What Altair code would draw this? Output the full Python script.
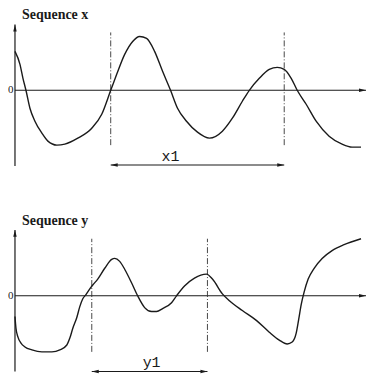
import altair as alt
import pandas as pd

# ---------------- data ----------------
titles = ["Sequence x", "Sequence y"]
span_labels = ["x1", "y1"]

# Sequence x : time index and amplitude
seq_x_t = [0, 5, 8, 11, 15, 20, 27, 33, 42, 50, 63, 77, 87, 96, 102, 110, 118, 125,
           132, 140, 148, 156, 163, 172, 183, 195, 208, 218, 228, 235, 245, 255, 263,
           270, 277, 283, 292, 302, 315, 328, 338, 347]
seq_x_a = [39, 26, 12, 0, -18, -31, -43, -51, -55, -54, -48, -38, -24, 0, 16, 36, 49, 54,
           52, 39, 19, 0, -18, -31, -42, -48, -41, -28, -11, 0, 12, 21, 23,
           21, 12, 0, -14, -31, -46, -54, -57, -57]

# Sequence y : time index and amplitude
seq_y_t = [0, 1, 3, 6, 10, 17, 27, 37, 45, 52, 55, 58, 62, 65, 68, 71, 75, 78, 83, 90, 97,
           100, 105, 110, 117, 123, 130, 137, 142, 148, 157, 162, 170, 180, 192, 198,
           208, 215, 228, 242, 255, 265, 273, 278, 282, 284.5, 287, 290, 294, 300, 308,
           318, 330, 347]
seq_y_a = [-21, -33, -42, -48, -52, -55, -57, -57, -55, -50, -43, -33, -22, -11, -3, 1, 7,
           11, 17, 28, 37, 38, 35, 27, 13, 0, -12, -16, -16, -13, -7, 0, 10, 18, 22, 17,
           2, -5, -15, -25, -37, -45, -49, -47, -38, -24, -9, 4, 17, 28, 38,
           46, 52, 58]

# marked spans (start / end time of x1 and y1)
x_span = [96, 270]
y_span = [77, 193]

# ---------------- drawing ----------------
UP = "M0,0L-0.5,2L0.5,2Z"
RIGHT = "M0,0L-2,-0.5L-2,0.5Z"
LEFT = "M0,0L2,-0.5L2,0.5Z"
INK = "#1a1a1a"


def panel(title, t, a, span, label, cfg):
    xs = alt.Scale(domain=[-6, 353], nice=False, zero=False)
    ys = alt.Scale(domain=cfg["ydom"], nice=False, zero=False)

    def X(f):
        return alt.X(f, type="quantitative", scale=xs, axis=None)

    def Y(f):
        return alt.Y(f, type="quantitative", scale=ys, axis=None)

    curve = alt.Chart(pd.DataFrame({"t": t, "a": a})).mark_line(
        interpolate="monotone", color=INK, strokeWidth=1.4
    ).encode(x=X("t"), y=Y("a"))

    yaxis = alt.Chart(pd.DataFrame({"t": [0], "lo": [cfg["axis_lo"]], "hi": [cfg["axis_hi"]]})).mark_rule(
        color=INK, strokeWidth=1.2
    ).encode(x=X("t"), y=Y("lo"), y2="hi")

    zero = alt.Chart(pd.DataFrame({"t0": [0], "t1": [cfg["t_end"]], "a": [0]})).mark_rule(
        color=INK, strokeWidth=1.1
    ).encode(x=X("t0"), x2="t1", y=Y("a"))

    up = alt.Chart(pd.DataFrame({"t": [0], "a": [cfg["axis_hi"]]})).mark_point(
        shape=UP, filled=True, size=49, color=INK, opacity=1, strokeWidth=0
    ).encode(x=X("t"), y=Y("a"))

    right = alt.Chart(pd.DataFrame({"t": [cfg["t_end"]], "a": [0]})).mark_point(
        shape=RIGHT, filled=True, size=49, color=INK, opacity=1, strokeWidth=0
    ).encode(x=X("t"), y=Y("a"))

    dashed = alt.Chart(pd.DataFrame({"t": span, "lo": [cfg["dash_lo"]] * 2, "hi": [cfg["dash_hi"]] * 2})).mark_rule(
        color="#333333", strokeWidth=0.9, strokeDash=[6, 2, 1, 2]
    ).encode(x=X("t"), y=Y("lo"), y2="hi")

    span_df = pd.DataFrame({"t0": [span[0]], "t1": [span[1]], "a": [cfg["arrow_a"]]})
    span_rule = alt.Chart(span_df).mark_rule(color=INK, strokeWidth=1.1).encode(
        x=X("t0"), x2="t1", y=Y("a"))
    span_l = alt.Chart(span_df).mark_point(
        shape=LEFT, filled=True, size=49, color=INK, opacity=1, strokeWidth=0
    ).encode(x=X("t0"), y=Y("a"))
    span_r = alt.Chart(span_df).mark_point(
        shape=RIGHT, filled=True, size=49, color=INK, opacity=1, strokeWidth=0
    ).encode(x=X("t1"), y=Y("a"))

    lab = alt.Chart(pd.DataFrame({"t": [cfg["label_t"]], "a": [cfg["label_a"]], "s": [label]})).mark_text(
        font="Liberation Mono", fontSize=15, align="center", baseline="alphabetic", color=INK
    ).encode(x=X("t"), y=Y("a"), text="s:N")

    zlab = alt.Chart(pd.DataFrame({"t": [-1.5], "a": [0], "s": ["0"]})).mark_text(
        font="Liberation Serif", fontSize=11, align="right", baseline="middle", color=INK
    ).encode(x=X("t"), y=Y("a"), text="s:N")

    return alt.layer(yaxis, zero, up, right, dashed, span_rule, span_l, span_r,
                     curve, lab, zlab).properties(
        width=359, height=cfg["height"],
        title=alt.TitleParams(title, anchor="start", font="Liberation Serif", fontSize=14,
                              fontWeight="bold", color=INK, dx=14, offset=1),
    )


top_cfg = dict(ydom=[-79, 67], height=146, axis_lo=-76, axis_hi=66, t_end=352,
               dash_lo=-55, dash_hi=58, arrow_a=-75, label_t=156, label_a=-71)
bot_cfg = dict(ydom=[-80, 67], height=145, axis_lo=-77, axis_hi=67, t_end=352,
               dash_lo=-57, dash_hi=58, arrow_a=-77, label_t=137, label_a=-72)

chart = alt.vconcat(
    panel(titles[0], seq_x_t, seq_x_a, x_span, span_labels[0], top_cfg),
    panel(titles[1], seq_y_t, seq_y_a, y_span, span_labels[1], bot_cfg),
    spacing=45,
).properties(padding=0).configure_view(stroke=None)

chart.save("out.html", embed_options={"renderer": "svg", "actions": False})
